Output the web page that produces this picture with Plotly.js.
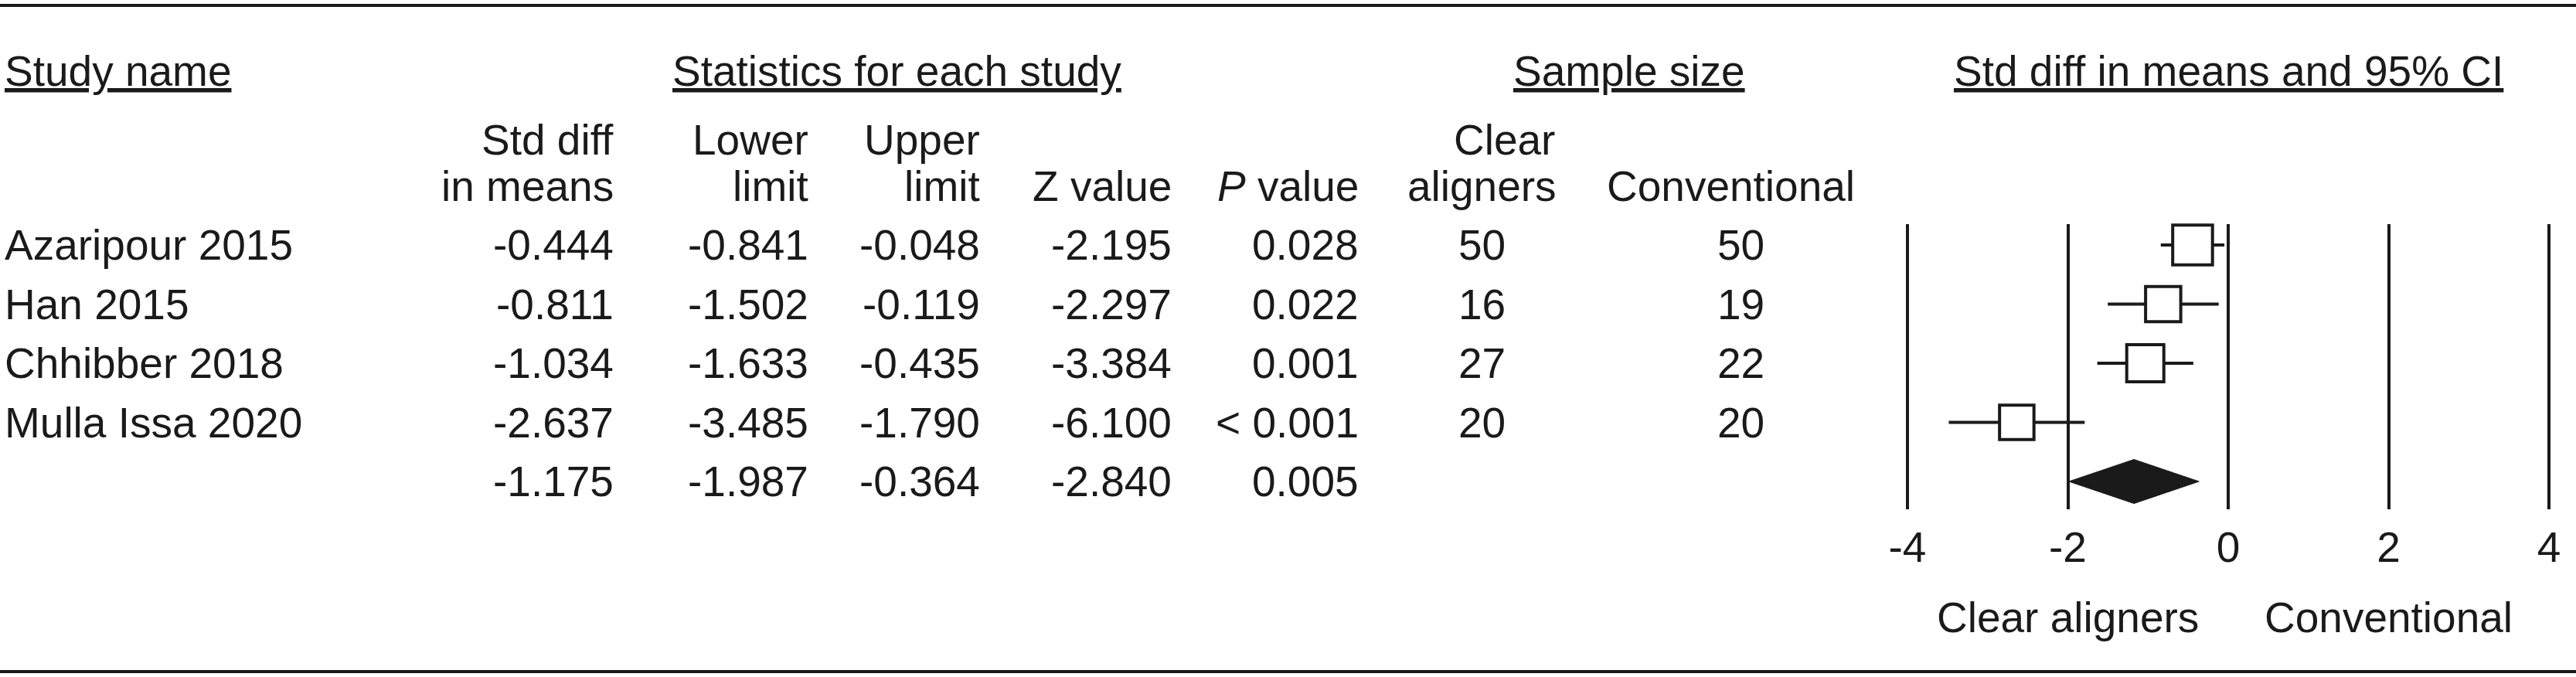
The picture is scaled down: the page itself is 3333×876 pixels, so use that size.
<!DOCTYPE html>
<html>
<head>
<meta charset="utf-8">
<script src="https://cdn.plot.ly/plotly-3.0.1.min.js"></script>
<style>
  html, body { margin: 0; padding: 0; background: #fff; }
</style>
</head>
<body>
<div id="chart"></div>
<script>
// forest plot data: clear aligners vs conventional
var studies = ["Azaripour 2015", "Han 2015", "Chhibber 2018", "Mulla Issa 2020"];
var smd = [-0.444, -0.811, -1.034, -2.637];
var lower = [-0.841, -1.502, -1.633, -3.485];
var upper = [-0.048, -0.119, -0.435, -1.790];
var zValues = [-2.195, -2.297, -3.384, -6.100];
var pValues = ["0.028", "0.022", "0.001", "< 0.001"];
var nClear = [50, 16, 27, 20];
var nConventional = [50, 19, 22, 20];

var pooledSmd = -1.175;
var pooledLower = -1.987;
var pooledUpper = -0.364;
var pooledZ = -2.840;
var pooledP = "0.005";

var axisTicks = [-4, -2, 0, 2, 4];
var favoursLabels = ["Clear aligners", "Conventional"];

// styling / layout
var W = 3333, H = 876;
var INK = "#1a1a1a";
var FONT = "Liberation Sans, Arial, sans-serif";
var FS = 55;
var boxSizes = [51.5, 45.5, 48, 44.5];
var diamondHalf = 0.3725;   // in row units
var rowTop = 317, rowPitch = 76.5;   // px
var plotTop = 290, plotBottom = 659;   // px
var pxPerUnit = 103.75, zeroPx = 2883, xPad = 0.05;
var colRight = [796, 1048, 1270, 1518, 1760];
var colCenter = [1918, 2252];

function px(x) { return x / W; }
function py(y) { return 1 - y / H; }

var annotations = [];
function addText(text, x, y, anchor, yref) {
    annotations.push({
        text: text,
        xref: "paper", x: px(x), xanchor: anchor,
        yref: yref || "paper", y: yref ? y : py(y), yanchor: "middle",
        showarrow: false,
        font: {family: FONT, size: FS, color: INK}
    });
}

// headers
addText("<u>Study name</u>", 4, 92.5, "left");
addText("<u>Statistics for each study</u>", 1160, 92.5, "center");
addText("<u>Sample size</u>", 2108, 92.5, "center");
addText("<u>Std diff in means and 95% CI</u>", 2883, 92.5, "center");

addText("Std diff", colRight[0], 181, "right");
addText("in means", colRight[0], 241, "right");
addText("Lower", colRight[1], 181, "right");
addText("limit", colRight[1], 241, "right");
addText("Upper", colRight[2], 181, "right");
addText("limit", colRight[2], 241, "right");
addText("Z value", colRight[3], 241, "right");
addText("<i>P</i> value", colRight[4], 241, "right");
addText("Clear", 1946, 181, "center");
addText("aligners", 1917, 241, "center");
addText("Conventional", 2239, 241, "center");

// study rows
for (var i = 0; i < studies.length; i++) {
    addText(studies[i], 4, i, "left", "y");
    addText(smd[i].toFixed(3), colRight[0], i, "right", "y");
    addText(lower[i].toFixed(3), colRight[1], i, "right", "y");
    addText(upper[i].toFixed(3), colRight[2], i, "right", "y");
    addText(zValues[i].toFixed(3), colRight[3], i, "right", "y");
    addText(pValues[i], colRight[4], i, "right", "y");
    addText(String(nClear[i]), colCenter[0], i, "center", "y");
    addText(String(nConventional[i]), colCenter[1], i, "center", "y");
}
// pooled row
var pr = studies.length;
addText(pooledSmd.toFixed(3), colRight[0], pr, "right", "y");
addText(pooledLower.toFixed(3), colRight[1], pr, "right", "y");
addText(pooledUpper.toFixed(3), colRight[2], pr, "right", "y");
addText(pooledZ.toFixed(3), colRight[3], pr, "right", "y");
addText(pooledP, colRight[4], pr, "right", "y");

// favours labels under the axis
favoursLabels.forEach(function (lab, k) {
    annotations.push({
        text: lab, xref: "x", x: k === 0 ? -2 : 2, xanchor: "center",
        yref: "paper", y: py(799), yanchor: "middle", showarrow: false,
        font: {family: FONT, size: FS, color: INK}
    });
});

// traces
var rows = studies.map(function (s, i) { return i; });
var ciX = [], ciY = [];
for (var i = 0; i < studies.length; i++) {
    ciX.push(lower[i], upper[i], null);
    ciY.push(i, i, null);
}
var ciTrace = {
    type: "scatter", mode: "lines", x: ciX, y: ciY,
    line: {color: INK, width: 4}, cliponaxis: false, hoverinfo: "skip"
};
var boxTrace = {
    type: "scatter", mode: "markers", x: smd, y: rows,
    marker: {symbol: "square", size: boxSizes, color: "#ffffff", opacity: 1,
             line: {color: INK, width: 4}},
    cliponaxis: false
};
var diamondTrace = {
    type: "scatter", mode: "lines",
    x: [pooledLower, pooledSmd, pooledUpper, pooledSmd, pooledLower],
    y: [pr, pr - diamondHalf, pr, pr + diamondHalf, pr],
    fill: "toself", fillcolor: INK, line: {color: INK, width: 1},
    cliponaxis: false
};

var yTopUnit = (plotTop - rowTop) / rowPitch;
var yBottomUnit = (plotBottom - rowTop) / rowPitch;
var xMin = axisTicks[0] - xPad, xMax = axisTicks[axisTicks.length - 1] + xPad;

var layout = {
    width: W, height: H,
    margin: {l: 0, r: 0, t: 0, b: 0},
    paper_bgcolor: "#ffffff", plot_bgcolor: "#ffffff",
    showlegend: false,
    xaxis: {
        domain: [px(zeroPx + xMin * pxPerUnit), px(zeroPx + xMax * pxPerUnit)],
        range: [xMin, xMax],
        tickvals: axisTicks,
        ticktext: axisTicks.map(String),
        ticks: "",
        showgrid: true, gridcolor: INK, gridwidth: 4,
        zeroline: false, showline: false,
        tickfont: {family: FONT, size: FS, color: INK},
        ticklabelstandoff: 12,
        fixedrange: true
    },
    yaxis: {
        domain: [py(plotBottom), py(plotTop)],
        range: [yBottomUnit, yTopUnit],
        showgrid: false, zeroline: false, showline: false,
        showticklabels: false, ticks: "",
        fixedrange: true
    },
    shapes: [
        {type: "line", xref: "paper", yref: "paper", x0: 0, x1: 1, y0: py(7), y1: py(7),
         line: {color: INK, width: 4}},
        {type: "line", xref: "paper", yref: "paper", x0: 0, x1: 1, y0: py(869), y1: py(869),
         line: {color: INK, width: 4}}
    ],
    annotations: annotations
};

Plotly.newPlot("chart", [ciTrace, diamondTrace, boxTrace], layout, {staticPlot: true, displayModeBar: false});
</script>
</body>
</html>
